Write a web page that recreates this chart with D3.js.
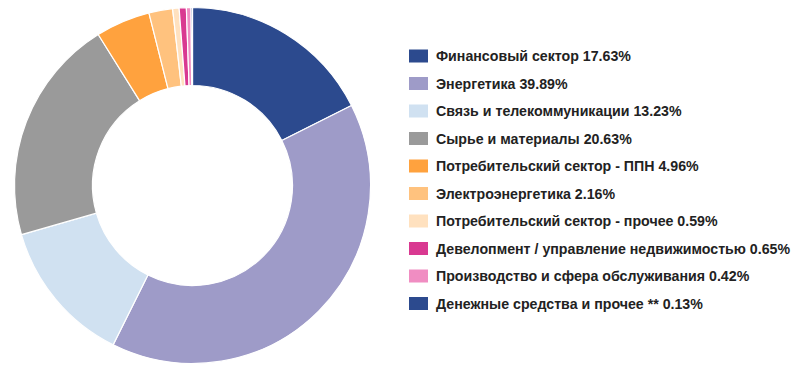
<!DOCTYPE html>
<html><head><meta charset="utf-8">
<script src="https://cdn.jsdelivr.net/npm/d3@7"></script>
<style>body{margin:0;background:#fff;}svg{display:block;}</style>
</head><body>
<svg id="chart" width="801" height="383"></svg>
<script>
const categories = [
  "Финансовый сектор",
  "Энергетика",
  "Связь и телекоммуникации",
  "Сырье и материалы",
  "Потребительский сектор - ППН",
  "Электроэнергетика",
  "Потребительский сектор - прочее",
  "Девелопмент / управление недвижимостью",
  "Производство и сфера обслуживания",
  "Денежные средства и прочее **"
];
const values = [17.63, 39.89, 13.23, 20.63, 4.96, 2.16, 0.59, 0.65, 0.42, 0.13];
const valueLabels = ["17.63%", "39.89%", "13.23%", "20.63%", "4.96%", "2.16%", "0.59%", "0.65%", "0.42%", "0.13%"];
const colors = ["#2c4a8e", "#9e9bc8", "#d0e1f1", "#9a9a9a", "#ffa23e", "#ffc27e", "#ffe1bf", "#d93991", "#f08dc2", "#2c4a8e"];

const svg = d3.select("#chart");
const cx = 192.5, cy = 185.5, rOuter = 178, rInner = 100;

const pie = d3.pie().sort(null).value(d => d);
const arc = d3.arc().innerRadius(rInner).outerRadius(rOuter);
const color = d3.scaleOrdinal().domain(d3.range(categories.length)).range(colors);

svg.append("g").attr("transform", `translate(${cx},${cy})`)
  .selectAll("path").data(pie(values)).join("path")
  .attr("d", arc)
  .attr("fill", (d, i) => color(i))
  .attr("stroke", "#fff").attr("stroke-width", 1.2);

const y = d3.scalePoint().domain(d3.range(categories.length)).range([56, 303.5]);
const leg = svg.append("g").selectAll("g").data(categories).join("g")
  .attr("transform", (d, i) => `translate(409,${y(i)})`);
leg.append("rect").attr("x", 0).attr("y", -6.5).attr("width", 19).attr("height", 13)
  .attr("fill", (d, i) => color(i));
leg.append("text").attr("x", 27).attr("y", 0).attr("dy", "0.36em")
  .attr("font-family", "Liberation Sans, Arial, sans-serif").attr("font-weight", "bold")
  .attr("font-size", 14.2).attr("fill", "#222")
  .text((d, i) => d + " " + valueLabels[i]);
</script>
</body></html>
